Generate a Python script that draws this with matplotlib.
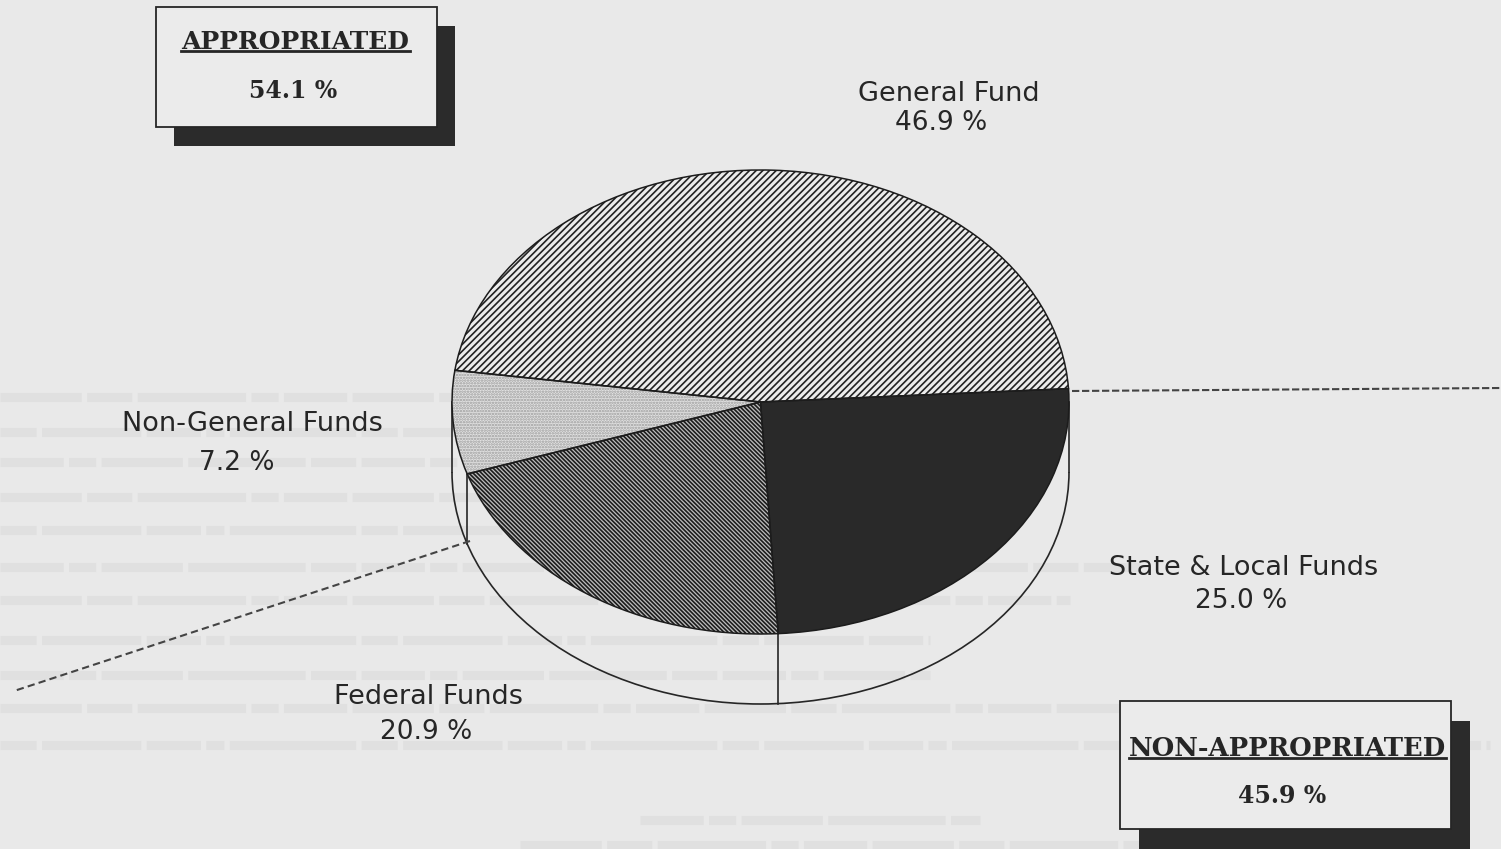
import numpy as np
import matplotlib
matplotlib.use("Agg")
from matplotlib import pyplot as plt
from matplotlib.patches import Arc, Rectangle

# pie slices
funds = ['General Fund', 'Non-General Funds', 'Federal Funds', 'State & Local Funds']
fund_pct = [46.9, 7.2, 20.9, 25.0]

# boxes
groups = ['APPROPRIATED', 'NON-APPROPRIATED']
group_pct = [54.1, 45.9]

W, H = 1501, 849
BG = '#e9e9e9'
INK = '#262626'

# page coordinates are pixels, y going down like the scan
plt.rcParams['hatch.linewidth'] = 1.2
fig = plt.figure(figsize=(W / 100, H / 100), dpi=100, facecolor=BG)
page = fig.add_axes([0, 0, 1, 1], facecolor=BG)
page.set_xlim(0, W)
page.set_ylim(H, 0)
page.axis('off')

# show-through of the printed text from the back of the sheet
ghost_rows = [(397, 0, 700), (432, 0, 655), (462, 0, 650), (497, 0, 660), (530, 0, 690),
              (567, 0, 1140), (600, 0, 1070), (640, 0, 930), (675, 0, 930),
              (708, 0, 1400), (745, 0, 1490), (820, 640, 980), (845, 520, 1140)]
ghost_dash = [(9, 0.6, 5, 0.6, 12, 0.6, 3, 0.6, 7, 0.6),
              (4, 0.6, 11, 0.6, 6, 0.6, 2, 0.6, 14, 0.6),
              (7, 0.6, 3, 0.6, 9, 0.6, 13, 0.6, 5, 0.6)]
for i, (y, x0, x1) in enumerate(ghost_rows):
    page.plot([x0, x1], [y, y], color='#e0e0e0', lw=6.5, zorder=1,
              linestyle=(0, ghost_dash[i % 3]), dash_capstyle='butt')

# pie disc, ellipse comes from letting the axes stretch
cx, cy, rx, ry = 760.5, 402, 308.5, 232
depth = 70
start = 3.3
pie_ax = fig.add_axes([(cx - rx) / W, 1 - (cy + ry) / H, 2 * rx / W, 2 * ry / H])
wedges, _ = pie_ax.pie(fund_pct, startangle=start, radius=1)

looks = [('#ececec', '/////', '#222222'),
         ('#e2e2e2', '......', '#9c9c9c'),
         ('#bdbdbd', '\\\\\\\\\\\\\\\\', '#1c1c1c'),
         ('#292929', None, '#1c1c1c')]
for w, (face, hatch, edge) in zip(wedges, looks):
    w.set_facecolor(face)
    w.set_edgecolor(edge)
    w.set_linewidth(0)
    if hatch:
        w.set_hatch(hatch)

# dark outline on top, the hatch colour would otherwise set it
pie_ax.pie(fund_pct, startangle=start, radius=1, colors=['none'] * 4,
           wedgeprops=dict(edgecolor='#1c1c1c', linewidth=1.1))
pie_ax.set_aspect('auto')
pie_ax.set_xlim(-1, 1)
pie_ax.set_ylim(-1, 1)
pie_ax.patch.set_alpha(0)

# side wall
page.add_patch(Arc((cx, cy + depth), 2 * rx, 2 * ry, theta1=0, theta2=180, color=INK, lw=1.2, zorder=2))
for x in [cx - rx, cx + rx]:
    page.plot([x, x], [cy, cy + depth], color=INK, lw=1.2, zorder=2)
cum = np.cumsum(fund_pct)
for c in cum[1:3]:
    a = np.deg2rad(start + c * 3.6)
    x = cx + rx * np.cos(a)
    y = cy - ry * np.sin(a)
    page.plot([x, x], [y, y + depth], color=INK, lw=1.2, zorder=2)

# split between appropriated and non-appropriated
page.plot([1072, W], [391, 388], color='#444444', lw=1.5, linestyle=(0, (3.5, 1.3)), zorder=3)
page.plot([470, 14], [541, 691], color='#444444', lw=1.5, linestyle=(0, (3.5, 2)), zorder=3)

# labels
label_font = dict(family='DejaVu Sans', color=INK, ha='center', va='center', zorder=5)
name_xy = [(949, 94), (252, 424), (429, 697), (1244, 568)]
pct_xy = [(941, 123), (237, 463), (426, 732), (1241, 601)]
for name, pct, nxy, pxy in zip(funds, fund_pct, name_xy, pct_xy):
    page.text(nxy[0], nxy[1], name, fontsize=19.5, **label_font)
    page.text(pxy[0], pxy[1], f'{pct:.1f} %', fontsize=19, **label_font)

# boxes with drop shadow
boxes = [(156, 7, 281, 120, 18, 19), (1120, 701, 331, 128, 19, 20)]
head_xy = [(295.5, 49), (1287.5, 756)]
rule = [(181, 410, 51), (1129, 1446, 758)]
val_xy = [(293, 91), (1282, 796)]
head_size = [18, 18.6]
for i, (x, y, w, h, dx, dy) in enumerate(boxes):
    page.add_patch(Rectangle((x + dx, y + dy), w, h, facecolor='#2b2b2b', edgecolor='none', zorder=6))
    page.add_patch(Rectangle((x, y), w, h, facecolor='#ebebeb', edgecolor=INK, lw=1.3, zorder=7))
    page.text(head_xy[i][0], head_xy[i][1], groups[i], family='DejaVu Serif', weight='bold',
              fontsize=head_size[i], color=INK, ha='center', va='baseline', zorder=8)
    page.plot(rule[i][:2], [rule[i][2], rule[i][2]], color=INK, lw=2, zorder=8)
    page.text(val_xy[i][0], val_xy[i][1], f'{group_pct[i]:.1f} %', family='DejaVu Serif', weight='bold',
              fontsize=17, color=INK, ha='center', va='center', zorder=8)

fig.savefig('out.png', dpi=100, facecolor=BG)
